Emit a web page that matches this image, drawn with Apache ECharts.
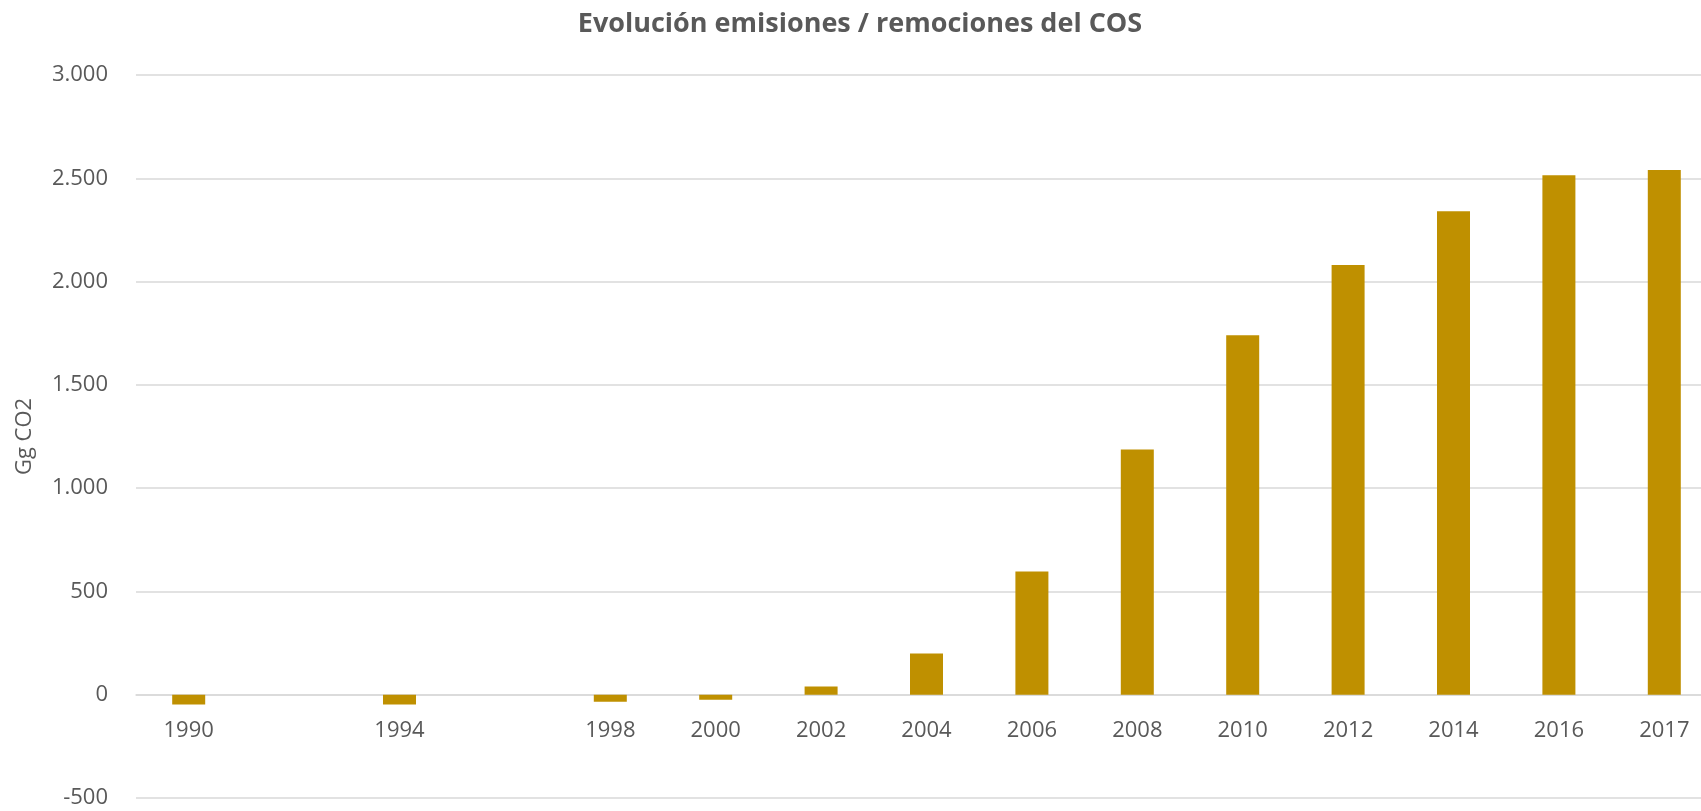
<!DOCTYPE html>
<html>
<head>
<meta charset="utf-8">
<script src="https://cdn.jsdelivr.net/npm/echarts@6/dist/echarts.min.js"></script>
<style>
html,body{margin:0;padding:0;background:#fff;}
#chart{width:1701px;height:811px;}
</style>
</head>
<body>
<div id="chart"></div>
<script>
// Categories (empty slots are gaps in the series, kept as blank categories)
const categories = ['1990', '', '1994', '', '1998', '2000', '2002', '2004', '2006', '2008', '2010', '2012', '2014', '2016', '2017'];
// Emissions / removals of soil organic carbon (Gg CO2)
const values = [-47, null, -47, null, -34, -24, 40, 200, 597, 1187, 1740, 2080, 2341, 2515, 2540];
const titleText = 'Evolución emisiones / remociones del COS';
const yAxisName = 'Gg CO2';
const yMin = -500, yMax = 3000, yStep = 500;

const chart = echarts.init(document.getElementById('chart'));
const FONT = '"Open Sans", sans-serif';
const TXT = '#595959';

chart.setOption({
  animation: false,
  backgroundColor: '#ffffff',
  title: {
    text: titleText,
    left: 855,
    textAlign: 'center',
    top: 6,
    textStyle: { fontFamily: FONT, fontWeight: 'bold', fontSize: 27, color: TXT }
  },
  grid: { left: 136, top: 75, width: 1581, height: 723, containLabel: false, outerBoundsMode: 'none' },
  xAxis: {
    type: 'category',
    data: categories,
    position: 'bottom',
    axisLine: { show: true, onZero: false, lineStyle: { color: '#d9d9d9', width: 1.5 } },
    axisTick: { show: false },
    axisLabel: { interval: 0, margin: 25, fontFamily: FONT, fontSize: 22, color: TXT }
  },
  yAxis: {
    type: 'value',
    min: yMin,
    max: yMax,
    interval: yStep,
    name: yAxisName,
    nameLocation: 'middle',
    nameGap: 100,
    nameRotate: 90,
    nameTextStyle: { fontFamily: FONT, fontSize: 22, color: TXT },
    axisLine: { show: false },
    axisTick: { show: false },
    splitLine: { lineStyle: { color: '#d9d9d9', width: 1.5 } },
    axisLabel: {
      margin: 28,
      fontFamily: FONT, fontSize: 22, color: TXT,
      formatter: v => {
        const s = Math.abs(v).toString().replace(/\B(?=(\d{3})+(?!\d))/g, '.');
        return (v < 0 ? '-' : '') + s;
      }
    }
  },
  series: [{
    type: 'bar',
    data: values,
    barWidth: 33,
    itemStyle: { color: '#BF9000' }
  }]
});

// Move the category axis (line + labels) up to the zero line of the value axis
const yZeroPx = chart.convertToPixel({ yAxisIndex: 0 }, 0);
const yBottomPx = chart.convertToPixel({ yAxisIndex: 0 }, yMin);
chart.setOption({ xAxis: { offset: yZeroPx - yBottomPx } });
</script>
</body>
</html>
